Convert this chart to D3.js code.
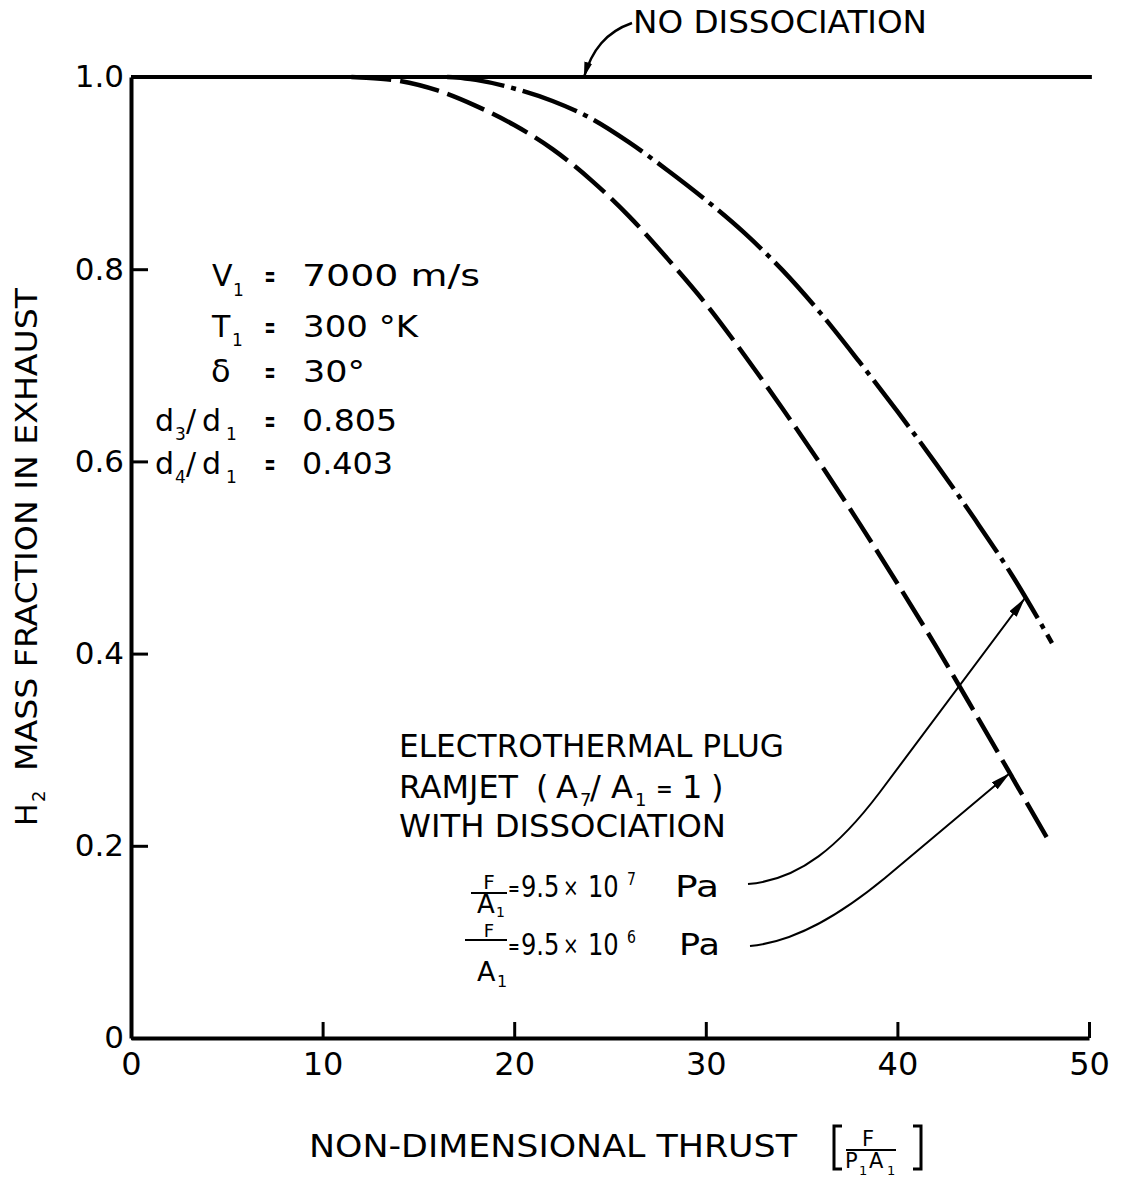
<!DOCTYPE html>
<html><head><meta charset="utf-8">
<script src="https://cdn.jsdelivr.net/npm/d3@7"></script>
<style>
body{margin:0;background:#fff}
svg{display:block}
text{font-family:"DejaVu Sans",sans-serif;fill:#000}
</style>
</head><body>
<svg id="c" width="1121" height="1182"></svg>
<script>
// ---- data ----
const xTicks = [0, 10, 20, 30, 40, 50];
const xTickLabels = ["0", "10", "20", "30", "40", "50"];
const yTicks = [0, 0.2, 0.4, 0.6, 0.8, 1.0];
const yTickLabels = ["0", "0.2", "0.4", "0.6", "0.8", "1.0"];
// no dissociation
const noDissX = [0, 50.15];
const noDissY = [1.0, 1.0];
// F/A1 = 9.5e6 Pa (dashed)
const lowX = [11.5, 12, 14, 16, 18, 20, 22, 24, 26, 28, 30, 32, 34, 36, 38, 40, 42, 44, 46, 47.9];
const lowY = [1.0, 0.9995, 0.996, 0.986, 0.970, 0.950, 0.925, 0.893, 0.855, 0.811, 0.764, 0.711, 0.655, 0.597, 0.536, 0.473, 0.408, 0.340, 0.271, 0.205];
// F/A1 = 9.5e7 Pa (dash-dot)
const highX = [16.5, 17, 18, 20, 22, 24, 26, 28, 30, 32, 34, 36, 38, 40, 42, 44, 46, 48.07];
const highY = [1.0, 0.9995, 0.997, 0.988, 0.975, 0.957, 0.932, 0.903, 0.872, 0.838, 0.799, 0.754, 0.704, 0.652, 0.598, 0.541, 0.481, 0.411];

// ---- chart ----
const svg = d3.select("#c");
const x = d3.scaleLinear().domain([0, 50]).range([131, 1089]);
const y = d3.scaleLinear().domain([0, 1]).range([1038, 77]);

const defs = svg.append("defs");
function marker(id, len, wid) {
  defs.append("marker").attr("id", id)
    .attr("markerUnits", "userSpaceOnUse")
    .attr("markerWidth", len).attr("markerHeight", wid)
    .attr("refX", len).attr("refY", wid / 2)
    .attr("orient", "auto")
    .append("path").attr("d", `M0,0 L${len},${wid/2} L0,${wid} Z`).attr("fill", "#000");
}
marker("ah", 20, 9);
marker("ah2", 15, 8);

// axes
const yAxis = d3.axisLeft(y).tickValues(yTicks)
  .tickFormat((d, i) => yTickLabels[i]).tickSizeInner(-17).tickSizeOuter(0).tickPadding(7);
const gy = svg.append("g").attr("transform", `translate(${x(0)},0)`).call(yAxis);
gy.select(".domain").attr("stroke", "#000").attr("stroke-width", 4);
gy.selectAll(".tick line").attr("stroke", "#000").attr("stroke-width", 3);
gy.selectAll(".tick text").attr("font-size", 31).attr("font-family", "DejaVu Sans").attr("fill", "#000");

const xAxis = d3.axisBottom(x).tickValues(xTicks)
  .tickFormat((d, i) => xTickLabels[i]).tickSizeInner(-16).tickSizeOuter(0).tickPadding(14);
const gx = svg.append("g").attr("transform", `translate(0,${y(0)})`).call(xAxis);
gx.select(".domain").attr("stroke", "#000").attr("stroke-width", 4);
gx.selectAll(".tick line").attr("stroke", "#000").attr("stroke-width", 3);
gx.selectAll(".tick text").attr("font-size", 32).attr("font-family", "DejaVu Sans").attr("fill", "#000");

// lines
const line = d3.line().x(d => x(d[0])).y(d => y(d[1])).curve(d3.curveMonotoneX);
svg.append("path").datum(d3.zip(noDissX, noDissY)).attr("d", d3.line().x(d => x(d[0])).y(d => y(d[1])))
  .attr("fill", "none").attr("stroke", "#000").attr("stroke-width", 4);
svg.append("path").datum(d3.zip(lowX, lowY)).attr("d", line)
  .attr("fill", "none").attr("stroke", "#000").attr("stroke-width", 4.5)
  .attr("stroke-dasharray", "40,9");
svg.append("path").datum(d3.zip(highX, highY)).attr("d", line)
  .attr("fill", "none").attr("stroke", "#000").attr("stroke-width", 4.5)
  .attr("stroke-dasharray", "58,7,5,7");

// ---- text helpers ----
function txt(xp, yp, s, size, opts = {}) {
  const t = svg.append("text").attr("x", xp).attr("y", yp).attr("font-size", size).text(s);
  if (opts.len) t.attr("textLength", opts.len).attr("lengthAdjust", "spacingAndGlyphs");
  if (opts.anchor) t.attr("text-anchor", opts.anchor);
  if (opts.transform) t.attr("transform", opts.transform);
  if (opts.bold) t.attr("font-weight", "bold");
  return t;
}
function eq(cx, base, size = 28, w = 11) { txt(cx, base, "=", size, {anchor: "middle", len: w, bold: true}); }

// one text element made of absolutely placed pieces, optionally squeezed horizontally
function multi(x0, base, sx, parts) {
  const t = svg.append("text").attr("transform", `translate(${x0},${base}) scale(${sx},1)`);
  parts.forEach(([X, dy, size, s, bold]) => {
    const ts = t.append("tspan").attr("x", (X - x0) / sx).attr("y", dy).attr("font-size", size).text(s);
    if (bold) ts.attr("font-weight", "bold");
  });
  return t;
}

// NO DISSOCIATION
txt(633, 33, "NO DISSOCIATION", 32, {len: 294});
svg.append("path").attr("d", "M632,23 C606,32 592,50 584,77")
  .attr("fill", "none").attr("stroke", "#000").attr("stroke-width", 2.5).attr("marker-end", "url(#ah2)");

// parameter block
txt(212, 286, "V", 30); txt(233, 296, "1", 17); eq(270, 286);
txt(302, 286, "7000 m/s", 30, {len: 178});
txt(212, 337, "T", 30); txt(232, 346, "1", 17); eq(270, 337);
txt(303, 337, "300 °K", 30, {len: 115});
txt(211, 382, "δ", 32); eq(270, 382);
txt(303, 382, "30°", 30, {len: 62});
txt(155, 431, "d", 30); txt(175, 440, "3", 17); txt(186, 431, "/", 30); txt(202, 431, "d", 30); txt(226, 440, "1", 17); eq(270, 431);
txt(302, 431, "0.805", 30, {len: 95});
txt(155, 474, "d", 30); txt(175, 483, "4", 17); txt(186, 474, "/", 30); txt(202, 474, "d", 30); txt(226, 483, "1", 17); eq(270, 474);
txt(302, 474, "0.403", 30, {len: 91});

// annotation block
txt(399, 757, "ELECTROTHERMAL PLUG", 32, {len: 385});
txt(399, 798, "RAMJET", 32, {len: 119});
multi(536, 798, 1, [
  [536, 0, 32, "("],
  [556, 0, 32, "A"], [580, 8, 18, "7"], [590, 0, 32, "/"],
  [611, 0, 32, "A"], [635, 8, 18, "1"],
  [656, -2, 20, "=", true],
  [682, 0, 32, "1"],
  [711, 0, 32, ")"]
]);
txt(399, 837, "WITH DISSOCIATION", 32, {len: 327});

// fraction 1
txt(489, 889, "F", 20, {anchor: "middle"});
svg.append("line").attr("x1", 471).attr("x2", 507).attr("y1", 893).attr("y2", 893).attr("stroke", "#000").attr("stroke-width", 2);
multi(477, 913, 1, [[477, 0, 26, "A"], [496, 4, 14, "1"]]);
multi(508, 897, 0.78, [[508, -2, 18, "=", true], [521, 0, 31, "9.5"], [563, -1, 24, "×"], [588, 0, 31, "10"], [627, -12, 18, "7"]]);
txt(675, 897, "Pa", 31, {len: 44});
// fraction 2
txt(489, 937, "F", 18, {anchor: "middle"});
svg.append("line").attr("x1", 465).attr("x2", 507).attr("y1", 940).attr("y2", 940).attr("stroke", "#000").attr("stroke-width", 2);
multi(477, 981, 1, [[477, 0, 27, "A"], [497, 6, 16, "1"]]);
multi(508, 955, 0.78, [[508, -2, 18, "=", true], [521, 0, 31, "9.5"], [563, -1, 24, "×"], [588, 0, 31, "10"], [627, -12, 18, "6"]]);
txt(679, 955, "Pa", 31, {len: 41});

// leaders
svg.append("path").attr("d", "M748,884 C800,880 840,845 880,792 L1025,598")
  .attr("fill", "none").attr("stroke", "#000").attr("stroke-width", 2).attr("marker-end", "url(#ah)");
svg.append("path").attr("d", "M750,946 C795,942 840,915 885,878 L1010,773")
  .attr("fill", "none").attr("stroke", "#000").attr("stroke-width", 2).attr("marker-end", "url(#ah)");

// y axis title
txt(0, 0, "H", 30, {transform: "translate(37,826) rotate(-90)"});
txt(0, 0, "2", 18, {transform: "translate(45,802) rotate(-90)"});
txt(0, 0, "MASS FRACTION IN EXHAUST", 30, {len: 483, transform: "translate(37,771) rotate(-90)"});

// x axis title
txt(309, 1157, "NON-DIMENSIONAL THRUST", 32, {len: 488});
svg.append("path").attr("d", "M842,1126 L834,1126 L834,1169 L842,1169")
  .attr("fill", "none").attr("stroke", "#000").attr("stroke-width", 3);
svg.append("path").attr("d", "M913,1126 L921,1126 L921,1169 L913,1169")
  .attr("fill", "none").attr("stroke", "#000").attr("stroke-width", 3);
txt(868, 1146, "F", 21, {anchor: "middle"});
svg.append("line").attr("x1", 846).attr("x2", 896).attr("y1", 1150).attr("y2", 1150).attr("stroke", "#000").attr("stroke-width", 2);
txt(845, 1168, "P", 21); txt(859, 1175, "1", 13);
txt(869, 1168, "A", 21); txt(887, 1175, "1", 13);
</script>
</body></html>
